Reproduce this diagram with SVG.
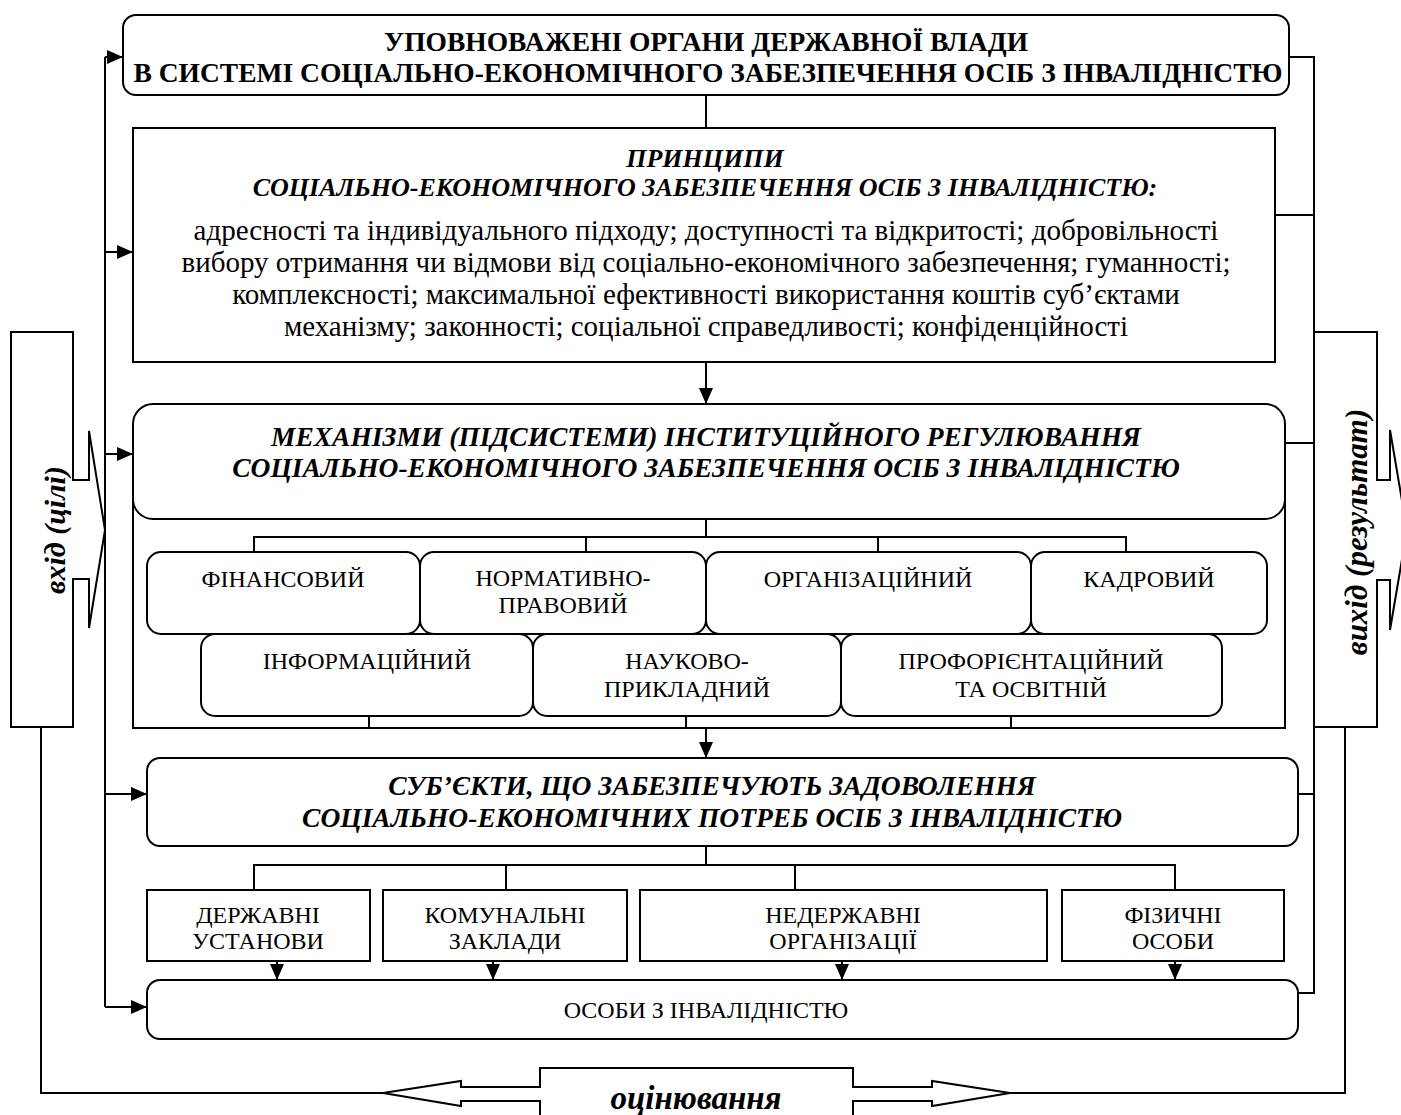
<svg xmlns="http://www.w3.org/2000/svg" width="1401" height="1115" viewBox="0 0 1401 1115">
<defs>
<marker id="ah" markerUnits="userSpaceOnUse" markerWidth="18" markerHeight="14" refX="16" refY="7" orient="auto">
<path d="M0,0 L16,7 L0,14 Z" fill="#000"/>
</marker>
<style>
.box{fill:#fff;stroke:#000;stroke-width:2}
.ln{fill:none;stroke:#000;stroke-width:2}
.t{font-family:"Liberation Serif","Times New Roman",serif;font-size:24px;text-anchor:middle;fill:#000}
.b{font-weight:bold;font-size:27.5px}
.bi{font-weight:bold;font-style:italic;font-size:27.5px}
.p{font-size:29px}
.v{font-family:"Liberation Serif","Times New Roman",serif;font-size:30px;font-weight:bold;font-style:italic;text-anchor:middle;fill:#000}
</style>
</defs>
<rect width="1401" height="1115" fill="#fff"/>

<g id="connectors">
<path class="ln" d="M41,727 V1093 H383"/>
<path class="ln" d="M1345,727 V1093 H1010"/>
<path class="ln" d="M105,1007 V57"/>
<path class="ln" d="M105,57 H123" marker-end="url(#ah)"/>
<path class="ln" d="M105,252 H133" marker-end="url(#ah)"/>
<path class="ln" d="M105,454 H133" marker-end="url(#ah)"/>
<path class="ln" d="M105,794 H147" marker-end="url(#ah)"/>
<path class="ln" d="M105,1007 H147" marker-end="url(#ah)"/>
<path class="ln" d="M1289,57 H1314 V993 H1298"/>
<path class="ln" d="M1275,215 H1314"/>
<path class="ln" d="M1285,443 H1314"/>
<path class="ln" d="M1298,794 H1314"/>
<path class="ln" d="M706,95 V128"/>
<path class="ln" d="M706,362 V404" marker-end="url(#ah)"/>
<path class="ln" d="M706,519 V537 M254,552 V537 H1126 V552 M586,537 V552 M878,537 V552"/>
<path class="ln" d="M369,716 V728 M686,716 V728 M1011,716 V728"/>
<path class="ln" d="M706,728 V758" marker-end="url(#ah)"/>
<path class="ln" d="M706,846 V865 M254,890 V865 H1175 V890 M506,865 V890 M795,865 V890"/>
<path class="ln" d="M277,961 V980" marker-end="url(#ah)"/>
<path class="ln" d="M493,961 V980" marker-end="url(#ah)"/>
<path class="ln" d="M842,961 V980" marker-end="url(#ah)"/>
<path class="ln" d="M1175,961 V980" marker-end="url(#ah)"/>
</g>

<g id="input">
<path class="box" d="M11,332 H73 V480 H89 V431 L105,530 L89,628 V579 H73 V727 H11 Z"/>
<text class="v" transform="translate(65,530) rotate(-90)">вхід (цілі)</text>
</g>

<g id="output">
<path class="box" d="M1314,332 H1377 V480 H1390 V430 L1407,530 L1390,630 V580 H1377 V727 H1314 Z"/>
<text class="v" style="font-size:31px" transform="translate(1367,532) rotate(-90)">вихід (результат)</text>
</g>

<g id="evaluation">
<path class="box" d="M540,1125 V1101 H461 V1106 L383,1093 L461,1081 V1087 H540 V1068 H853 V1087 H932 V1081 L1010,1093 L932,1106 V1101 H853 V1125"/>
<text class="v" style="font-size:33px" x="696" y="1109">оцінювання</text>
</g>

<g id="authorities">
<rect class="box" x="123" y="15" width="1166" height="80" rx="13"/>
<text class="t b" x="706" y="51">УПОВНОВАЖЕНІ ОРГАНИ ДЕРЖАВНОЇ ВЛАДИ</text>
<text class="t b" x="708" y="82">В СИСТЕМІ СОЦІАЛЬНО-ЕКОНОМІЧНОГО ЗАБЕЗПЕЧЕННЯ ОСІБ З ІНВАЛІДНІСТЮ</text>
</g>

<g id="principles">
<rect class="box" x="133" y="128" width="1142" height="234"/>
<text class="t bi" style="font-size:26px" x="705" y="167">ПРИНЦИПИ</text>
<text class="t bi" style="font-size:26px" x="705" y="196">СОЦІАЛЬНО-ЕКОНОМІЧНОГО ЗАБЕЗПЕЧЕННЯ ОСІБ З ІНВАЛІДНІСТЮ:</text>
<text class="t p" x="706" y="240">адресності та індивідуального підходу; доступності та відкритості; добровільності</text>
<text class="t p" x="706" y="272">вибору отримання чи відмови від соціально-економічного забезпечення; гуманності;</text>
<text class="t p" x="706" y="304">комплексності; максимальної ефективності використання коштів суб’єктами</text>
<text class="t p" x="706" y="336">механізму; законності; соціальної справедливості; конфіденційності</text>
</g>

<g id="mechanisms">
<rect class="ln" x="133" y="440" width="1152" height="288"/>
<rect class="box" x="133" y="404" width="1152" height="115" rx="20"/>
<text class="t bi" x="706" y="446">МЕХАНІЗМИ (ПІДСИСТЕМИ) ІНСТИТУЦІЙНОГО РЕГУЛЮВАННЯ</text>
<text class="t bi" x="706" y="477">СОЦІАЛЬНО-ЕКОНОМІЧНОГО ЗАБЕЗПЕЧЕННЯ ОСІБ З ІНВАЛІДНІСТЮ</text>
</g>

<g id="m-financial">
<rect class="box" x="147" y="552" width="273" height="82" rx="14"/>
<text class="t" x="283" y="587">ФІНАНСОВИЙ</text>
</g>
<g id="m-legal">
<rect class="box" x="420" y="552" width="286" height="82" rx="14"/>
<text class="t" x="563" y="586">НОРМАТИВНО-</text>
<text class="t" x="563" y="613">ПРАВОВИЙ</text>
</g>
<g id="m-organizational">
<rect class="box" x="706" y="552" width="325" height="82" rx="14"/>
<text class="t" x="868" y="587">ОРГАНІЗАЦІЙНИЙ</text>
</g>
<g id="m-personnel">
<rect class="box" x="1031" y="552" width="236" height="82" rx="14"/>
<text class="t" x="1149" y="587">КАДРОВИЙ</text>
</g>
<g id="m-information">
<rect class="box" x="201" y="634" width="332" height="82" rx="14"/>
<text class="t" x="367" y="669">ІНФОРМАЦІЙНИЙ</text>
</g>
<g id="m-scientific">
<rect class="box" x="533" y="634" width="308" height="82" rx="14"/>
<text class="t" x="687" y="669">НАУКОВО-</text>
<text class="t" x="687" y="697">ПРИКЛАДНИЙ</text>
</g>
<g id="m-career">
<rect class="box" x="841" y="634" width="381" height="82" rx="14"/>
<text class="t" x="1031" y="669">ПРОФОРІЄНТАЦІЙНИЙ</text>
<text class="t" x="1031" y="697">ТА ОСВІТНІЙ</text>
</g>

<g id="subjects">
<rect class="box" x="147" y="758" width="1151" height="88" rx="13"/>
<text class="t bi" x="712" y="795">СУБ’ЄКТИ, ЩО ЗАБЕЗПЕЧУЮТЬ ЗАДОВОЛЕННЯ</text>
<text class="t bi" x="712" y="827">СОЦІАЛЬНО-ЕКОНОМІЧНИХ ПОТРЕБ ОСІБ З ІНВАЛІДНІСТЮ</text>
</g>

<g id="s-state">
<rect class="box" x="147" y="890" width="223" height="71"/>
<text class="t" x="258" y="923">ДЕРЖАВНІ</text>
<text class="t" x="258" y="949">УСТАНОВИ</text>
</g>
<g id="s-communal">
<rect class="box" x="383" y="890" width="244" height="71"/>
<text class="t" x="505" y="923">КОМУНАЛЬНІ</text>
<text class="t" x="505" y="949">ЗАКЛАДИ</text>
</g>
<g id="s-nongov">
<rect class="box" x="640" y="890" width="407" height="71"/>
<text class="t" x="843" y="923">НЕДЕРЖАВНІ</text>
<text class="t" x="843" y="949">ОРГАНІЗАЦІЇ</text>
</g>
<g id="s-individuals">
<rect class="box" x="1062" y="890" width="222" height="71"/>
<text class="t" x="1173" y="923">ФІЗИЧНІ</text>
<text class="t" x="1173" y="949">ОСОБИ</text>
</g>

<g id="persons">
<rect class="box" x="147" y="980" width="1151" height="59" rx="13"/>
<text class="t" x="706" y="1018">ОСОБИ З ІНВАЛІДНІСТЮ</text>
</g>
</svg>
